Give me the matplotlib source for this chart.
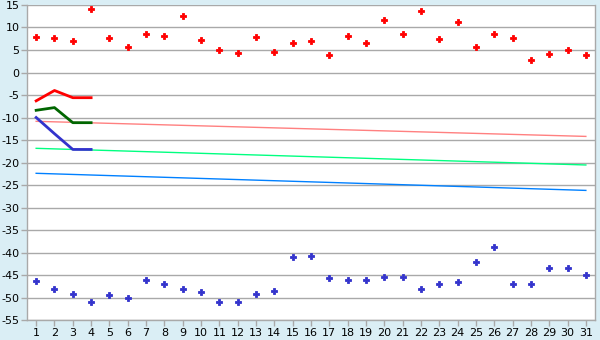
import matplotlib
matplotlib.use("Agg")
import matplotlib.pyplot as plt
import numpy as np

plt.rcParams["axes.unicode_minus"] = False

days = list(range(1, 32))
red_pts = [7.8, 7.6, 6.9, 14.0, 7.6, 5.6, 8.5, 8.0, 12.5, 7.15, 4.9, 4.25, 7.8, 4.5, 6.5,
           6.9, 3.8, 8.0, 6.5, 11.6, 8.5, 13.6, 7.4, 11.15, 5.6, 8.5, 7.6, 2.7, 4.0, 4.9, 3.8]
blue_pts = [-46.4, -48.2, -49.3, -51.1, -49.5, -50.0, -46.0, -47.1, -48.2, -48.85, -51.1, -51.1,
            -49.3, -48.6, -41.1, -40.85, -45.7, -46.2, -46.2, -45.5, -45.5, -48.2, -47.1, -46.6,
            -42.2, -38.85, -47.1, -47.1, -43.5, -43.5, -45.05]

short_x = [1, 2, 3, 4]
red_line = [-6.3, -4.0, -5.6, -5.6]
green_line = [-8.4, -7.8, -11.15, -11.15]
blue_line = [-10.0, -13.6, -17.1, -17.1]

trend_x = [1, 31]
pink_trend = [-10.85, -14.2]
lgreen_trend = [-16.85, -20.55]
lblue_trend = [-22.4, -26.2]

fig = plt.figure(figsize=(6, 3.4), dpi=100)
fig.patch.set_facecolor("#DAEEF5")
ax = fig.add_axes([0.045, 0.0588, 0.9467, 0.9265])
ax.set_facecolor("white")

ax.plot(trend_x, pink_trend, color="#FF8080", lw=1.0)
ax.plot(trend_x, lgreen_trend, color="#00FF80", lw=1.0)
ax.plot(trend_x, lblue_trend, color="#0080FF", lw=1.0)

ax.plot(short_x, red_line, color="#FF0000", lw=2.0)
ax.plot(short_x, green_line, color="#006600", lw=2.0)
ax.plot(short_x, blue_line, color="#3333CC", lw=2.0)

ax.plot(days, red_pts, ls="none", marker="P", ms=4.5, color="#FF0000", mew=0.6)
ax.plot(days, blue_pts, ls="none", marker="P", ms=4.5, color="#3333CC", mew=0.6)

ax.set_xlim(0.5, 31.5)
ax.set_ylim(-55, 15)
ax.set_yticks(range(-55, 16, 5))
ax.set_xticks(days)
ax.grid(axis="y", color="#A9A9A9", lw=1.0)
ax.set_axisbelow(True)
for s in ax.spines.values():
    s.set_color("#A9A9A9")
    s.set_linewidth(1.0)
ax.spines["top"].set_visible(False)
ax.tick_params(axis="both", colors="#A9A9A9", labelcolor="black", labelsize=8, length=4, width=1, pad=2)
ax.tick_params(axis="y", pad=1.5)

fig.savefig("out.png", dpi=100, facecolor=fig.get_facecolor())
